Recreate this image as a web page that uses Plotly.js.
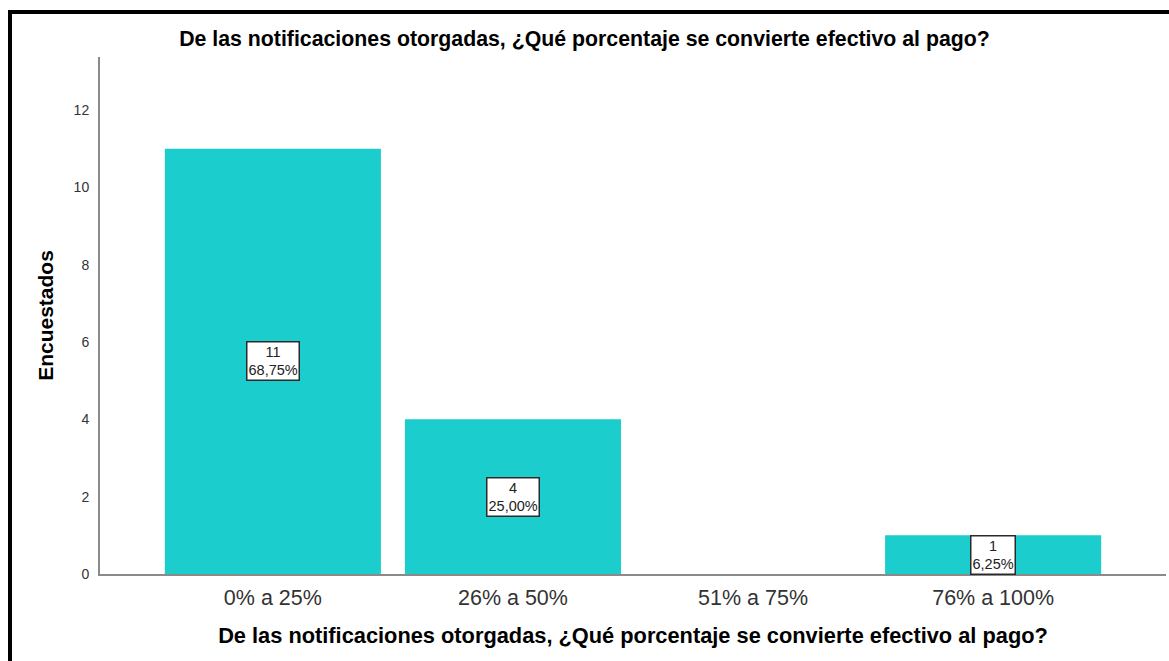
<!DOCTYPE html>
<html>
<head>
<meta charset="utf-8">
<script src="https://cdn.plot.ly/plotly-3.0.1.min.js"></script>
<style>
  html, body { margin: 0; padding: 0; background: #ffffff; }
  #chart { position: absolute; left: 0; top: 0; width: 1169px; height: 661px; }
  .frame { position: absolute; background: #000000; }
</style>
</head>
<body>
<div id="chart"></div>
<div class="frame" style="left:8px; top:10px; width:1161px; height:4px;"></div>
<div class="frame" style="left:8px; top:10px; width:4px; height:651px;"></div>
<script>
const categories = ["0% a 25%", "26% a 50%", "51% a 75%", "76% a 100%"];
const counts = [11, 4, 0, 1];
const percents = [68.75, 25.00, 0, 6.25];
const yTicks = [0, 2, 4, 6, 8, 10, 12];

const titleText = "De las notificaciones otorgadas, ¿Qué porcentaje se convierte efectivo al pago?";
const FONT = "Liberation Sans, Arial, sans-serif";

const trace = {
  type: "bar",
  x: categories,
  y: counts,
  width: 0.9,
  marker: { color: "#1ccdcd", line: { width: 0 } },
  hoverinfo: "x+y"
};

const annotations = [];
categories.forEach((c, i) => {
  if (counts[i] > 0) {
    annotations.push({
      x: c, y: counts[i] / 2, xref: "x", yref: "y",
      text: counts[i] + "<br>" + percents[i].toFixed(2).replace(".", ",") + "%",
      showarrow: false,
      font: { family: FONT, size: 14.5, color: "#222222" },
      bgcolor: "#ffffff",
      bordercolor: "#2a2a2a",
      borderwidth: 1.5,
      borderpad: 1,
      align: "center"
    });
  }
});

const layout = {
  width: 1169, height: 661,
  paper_bgcolor: "#ffffff", plot_bgcolor: "#ffffff",
  margin: { l: 100, r: 3, t: 57, b: 87 },
  showlegend: false,
  font: { family: FONT },
  title: {
    text: "<b>" + titleText + "</b>",
    font: { family: FONT, size: 21.3, color: "#000000" },
    x: 0.5, xanchor: "center",
    y: 1 - 39 / 661, yref: "container", yanchor: "middle"
  },
  xaxis: {
    type: "category",
    range: [-0.72, 3.72],
    showline: true, linecolor: "#8a8a8a", linewidth: 2,
    showgrid: false, zeroline: false, ticks: "",
    tickfont: { family: FONT, size: 21.5, color: "#333333" },
    ticklabelstandoff: 3,
    title: {
      text: "<b>" + titleText + "</b>",
      font: { family: FONT, size: 21.8, color: "#000000" },
      standoff: 19
    }
  },
  yaxis: {
    range: [0, 13.37],
    tickvals: yTicks,
    showline: true, linecolor: "#8a8a8a", linewidth: 2,
    showgrid: false, zeroline: false, ticks: "",
    tickfont: { family: FONT, size: 14, color: "#333333" },
    ticklabelstandoff: 6,
    title: {
      text: "<b>Encuestados</b>",
      font: { family: FONT, size: 21, color: "#000000" },
      standoff: 14
    }
  },
  annotations: annotations
};

Plotly.newPlot("chart", [trace], layout, { displayModeBar: false, staticPlot: true });
</script>
</body>
</html>
